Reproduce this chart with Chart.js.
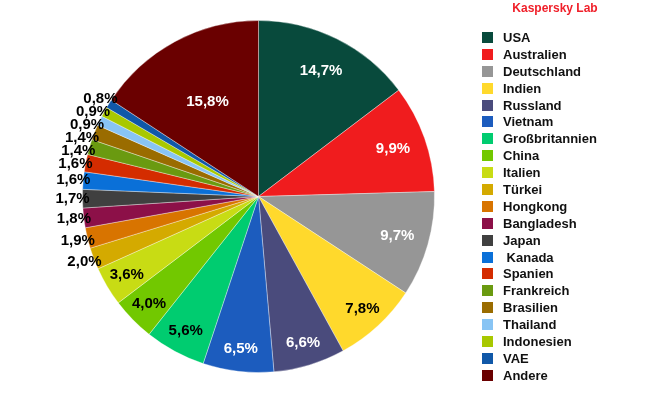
<!DOCTYPE html>
<html>
<head>
<meta charset="utf-8">
<script src="https://cdn.jsdelivr.net/npm/chart.js@4/dist/chart.umd.min.js"></script>
<style>
  body { margin: 0; background: #fff; font-family: "Liberation Sans", Arial, sans-serif; }
  #wrap { position: relative; width: 650px; height: 400px; }
  #title { position: absolute; left: 478px; width: 154px; top: 1px; text-align: center;
           color: #f0202a; font-weight: bold; font-size: 12px; }
  #legend { position: absolute; left: 482px; top: 29px; margin: 0; padding: 0; list-style: none; }
  #legend li { height: 16.9px; display: flex; align-items: center; font-weight: bold;
               font-size: 13px; color: #111; white-space: pre; }
  #legend span { display: inline-block; width: 11px; height: 11px; margin-right: 10px; }
</style>
</head>
<body>
<div id="wrap">
  <canvas id="pieChart"></canvas>
  <div id="title">Kaspersky Lab</div>
  <ul id="legend"></ul>
</div>
<script>
// Anteil je Land in Prozent
const countries = ['USA', 'Australien', 'Deutschland', 'Indien', 'Russland', 'Vietnam',
    'Großbritannien', 'China', 'Italien', 'Türkei', 'Hongkong', 'Bangladesh', 'Japan',
    ' Kanada', 'Spanien', 'Frankreich', 'Brasilien', 'Thailand', 'Indonesien', 'VAE', 'Andere'];
const shares = [14.7, 9.9, 9.7, 7.8, 6.6, 6.5, 5.6, 4.0, 3.6, 2.0, 1.9, 1.8, 1.7,
    1.6, 1.6, 1.4, 1.4, 0.9, 0.9, 0.8, 15.8];

const sliceColors = ['#084a3c', '#f01c1e', '#969696', '#ffd92c', '#4a4b7c', '#1c5cbe',
    '#00cc70', '#72c800', '#c8dc14', '#d4aa00', '#d87400', '#8c1048', '#404040',
    '#0a70d8', '#d42c00', '#6a9a10', '#9a6c00', '#88c4f4', '#a8c800', '#1058a8', '#6a0000'];
// dark slices get white labels
const whiteLabels = ['USA', 'Australien', 'Deutschland', 'Russland', 'Vietnam', 'Andere'];
// inside labels sit at 0.87 of the radius, a few sit closer to the centre
const labelRadius = { USA: 0.8, Australien: 0.81, Deutschland: 0.82, Andere: 0.61 };

// Draws the percent labels, inside for big slices and outside for small ones
const sliceLabels = {
    id: 'sliceLabels',
    afterDatasetsDraw(chart) {
        const ctx = chart.ctx;
        const meta = chart.getDatasetMeta(0);
        const outside = [];
        ctx.save();
        ctx.font = 'bold 15px "Liberation Sans", Arial, sans-serif';
        ctx.textAlign = 'center';
        ctx.textBaseline = 'middle';
        meta.data.forEach((arc, i) => {
            const p = arc.getProps(['x', 'y', 'startAngle', 'endAngle', 'outerRadius'], true);
            const mid = (p.startAngle + p.endAngle) / 2;
            const value = shares[i];
            const text = value.toFixed(1).replace('.', ',') + '%';
            if (value >= 3.5) {
                const r = p.outerRadius * (labelRadius[countries[i]] || 0.87);
                ctx.fillStyle = whiteLabels.includes(countries[i]) ? '#fff' : '#000';
                ctx.fillText(text, p.x + Math.cos(mid) * r, p.y + Math.sin(mid) * r);
            } else {
                const r = p.outerRadius + 10;
                outside.push({ text, cx: p.x, cy: p.y, r, left: Math.cos(mid) < 0,
                    y: p.y + Math.sin(mid) * r });
            }
        });
        // keep outside labels from overlapping, pushing them downwards
        ctx.fillStyle = '#000';
        [true, false].forEach(side => {
            const group = outside.filter(l => l.left === side).sort((a, b) => a.y - b.y);
            let last = -Infinity;
            group.forEach(l => {
                l.y = Math.max(l.y, last + 13);
                last = l.y;
                const dy = Math.min(Math.abs(l.y - l.cy), l.r);
                const dx = Math.sqrt(l.r * l.r - dy * dy);
                ctx.fillText(l.text, l.cx + (side ? -dx : dx), l.y);
            });
        });
        ctx.restore();
    }
};

const chart = new Chart(document.getElementById('pieChart'), {
    type: 'pie',
    data: {
        labels: countries,
        datasets: [{
            data: shares,
            backgroundColor: sliceColors,
            borderColor: 'rgba(255,255,255,0.35)',
            borderWidth: 1
        }]
    },
    options: {
        responsive: true,
        maintainAspectRatio: false,
        animation: false,
        layout: { padding: { left: 82, right: 215, top: 20, bottom: 27 } },
        plugins: {
            legend: { display: false },
            tooltip: { enabled: false }
        }
    },
    plugins: [sliceLabels]
});

// HTML legend on the right
const legend = document.getElementById('legend');
chart.data.labels.forEach((label, i) => {
    const li = document.createElement('li');
    const box = document.createElement('span');
    box.style.background = sliceColors[i];
    li.appendChild(box);
    li.appendChild(document.createTextNode(label));
    legend.appendChild(li);
});
</script>
</body>
</html>
